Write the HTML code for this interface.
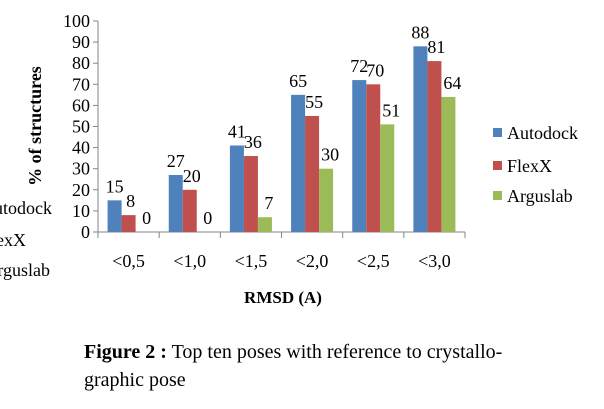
<!DOCTYPE html>
<html><head><meta charset="utf-8"><style>
body{margin:0;background:#fff;width:604px;height:409px;overflow:hidden;}
svg{position:absolute;left:0;top:0}
svg text{font-family:"Liberation Serif","Times New Roman",serif;}
</style></head><body>
<svg id="c" width="604" height="409"></svg>
<script>
const categories=['<0,5','<1,0','<1,5','<2,0','<2,5','<3,0'];
const autodock=[15,27,41,65,72,88];
const flexx=[8,20,36,55,70,81];
const arguslab=[0,0,7,30,51,64];
const yTicks=[0,10,20,30,40,50,60,70,80,90,100];
const seriesNames=['Autodock','FlexX','Arguslab'];
const colors=['#4f81bd','#c0504d','#9bbb59'];
const NS='http://www.w3.org/2000/svg';
const svg=document.getElementById('c');
function el(t,a,txt){const e=document.createElementNS(NS,t);for(const k in a)e.setAttribute(k,a[k]);if(txt!=null)e.textContent=txt;svg.appendChild(e);return e;}
const x0=98,x1=465,yb=232,yt=21;
const y=v=>yb-(v/100)*(yb-yt);
const cw=(x1-x0)/categories.length;
const cx=i=>x0+cw*i;
let e=el('line',{x1:x0,y1:yt,x2:x0,y2:yb,stroke:'#868686'});

yTicks.forEach(t=>{
 let l=el('line',{x1:x0-5,y1:y(t),x2:x0,y2:y(t),stroke:'#868686'});
 
 let tx=el('text',{x:x0-8,y:y(t)+6,'text-anchor':'end','font-size':18},t);
 
});
e=el('line',{x1:x0,y1:yb,x2:x1,y2:yb,stroke:'#868686'});

for(let i=0;i<=categories.length;i++){
 let l=el('line',{x1:cx(i),y1:yb,x2:cx(i),y2:yb+6,stroke:'#868686'});
 
}
const series=[autodock,flexx,arguslab];
const bw=14;
categories.forEach((c,i)=>{
 let tx=el('text',{x:cx(i)+cw/2,y:267,'text-anchor':'middle','font-size':18},c);
 
 series.forEach((s,j)=>{
  const bx=cx(i)+(cw-3*bw)/2+j*bw;
  let r=el('rect',{x:bx,y:y(s[i]),width:bw,height:yb-y(s[i]),fill:colors[j]});
  
  let lt=el('text',{x:bx+bw/2+(j===0?0:j*2),y:y(s[i])-8,'text-anchor':'middle','font-size':18},s[i]);
  
 });
});
seriesNames.forEach((n,j)=>{
 const ly=[133,166,196][j];
 let r=el('rect',{x:493,y:ly-5,width:9,height:9,fill:colors[j]});
 
 let t=el('text',{x:507,y:ly+6,'font-size':18},n);
 
});
[['Autodock',52,214],['FlexX',26,246],['Arguslab',50,276]].forEach(([s,xx,yy])=>{
 let t=el('text',{x:xx,y:yy,'text-anchor':'end','font-size':18},s);
 
});
e=el('text',{transform:'translate(41,126) rotate(-90)','text-anchor':'middle','font-size':18,'font-weight':'bold'},'% of structures');

e=el('text',{x:283,y:303,'text-anchor':'middle','font-size':17,'font-weight':'bold'},'RMSD (A)');

e=el('text',{x:84,y:358,'font-size':20});

e.innerHTML='<tspan font-weight="bold">Figure 2 :</tspan> Top ten poses with reference to crystallo-';
e=el('text',{x:84,y:386,'font-size':20},'graphic pose');

</script>
</body></html>
